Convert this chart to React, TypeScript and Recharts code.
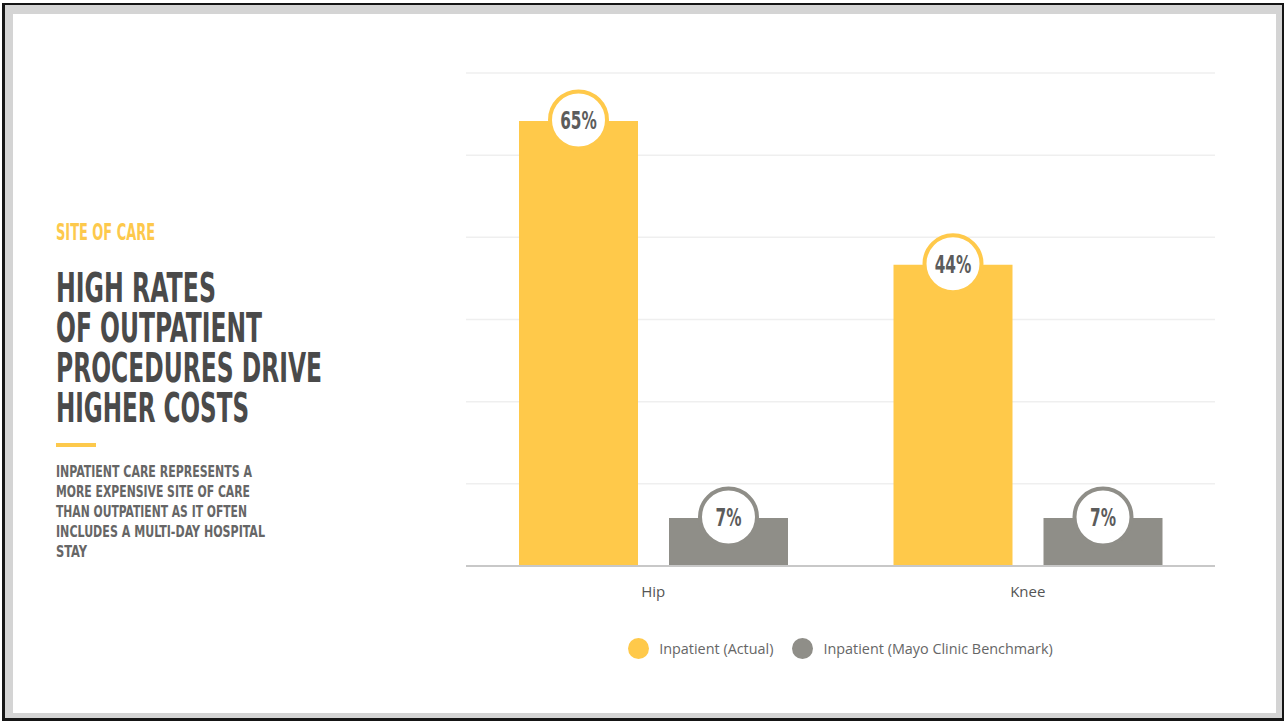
import React from 'react';
import { BarChart, Bar, XAxis, YAxis, CartesianGrid, Legend, LabelList } from 'recharts';

const categories = ['Hip', 'Knee'];
const actualValues = [65, 44];
const benchmarkValues = [7, 7];
const seriesNames = ['Inpatient (Actual)', 'Inpatient (Mayo Clinic Benchmark)'];
const yTicks = [0, 12, 24, 36, 48, 60, 72];
const kicker = 'SITE OF CARE';
const titleLines = ['HIGH RATES', 'OF OUTPATIENT', 'PROCEDURES DRIVE', 'HIGHER COSTS'];
const bodyLines = [
  'INPATIENT CARE REPRESENTS A',
  'MORE EXPENSIVE SITE OF CARE',
  'THAN OUTPATIENT AS IT OFTEN',
  'INCLUDES A MULTI-DAY HOSPITAL',
  'STAY',
];

const YELLOW = '#FFC94A';
const GRAY = '#8F8E88';
const COND = "'DejaVu Sans Condensed', 'DejaVu Sans', sans-serif";
const SANS = "'Open Sans', 'Noto Sans', sans-serif";

const data = categories.map((c, i) => ({ name: c, actual: actualValues[i], benchmark: benchmarkValues[i] }));

const titleWidths = [160, 206, 266, 193];
const bodyWidths = [196, 194, 191, 209, 31];

const makeLabel = (color: string) => (props: any) => {
  const { x, y, width, value } = props;
  const cx = x + width / 2;
  const cy = y - 1;
  return (
    <g>
      <circle cx={cx} cy={cy} r={28.5} fill="#fff" stroke={color} strokeWidth={4} />
      <g transform={`translate(${cx},${cy}) scale(0.68,1)`}>
        <text x={0} y={0} dy={9} textAnchor="middle" fontFamily={COND} fontWeight="bold" fontSize={25} fill="#5c5c5c">
          {`${value}%`}
        </text>
      </g>
    </g>
  );
};

const Tick = (props: any) => {
  const { x, y, payload } = props;
  return (
    <text x={x} y={y} dy={23} textAnchor="middle" fontFamily={SANS} fontSize={15} fill="#555">
      {payload.value}
    </text>
  );
};

const renderLegend = (props: any) => {
  const { payload } = props;
  return (
    <div style={{ display: 'flex', justifyContent: 'center', alignItems: 'center', height: 30, fontFamily: SANS, fontSize: 14.4, color: '#666' }}>
      {(payload || []).map((p: any, i: number) => (
        <div key={i} style={{ display: 'flex', alignItems: 'center', marginRight: i === 0 ? 19 : 0 }}>
          <span style={{ display: 'inline-block', width: 21, height: 21, borderRadius: '50%', background: p.color, marginRight: 10 }} />
          <span>{p.value}</span>
        </div>
      ))}
    </div>
  );
};

export default function App() {
  return (
    <div style={{ position: 'fixed', left: 0, top: 0, width: 1284, height: 721, background: '#fff', overflow: 'hidden' }}>
      <div style={{ position: 'absolute', left: 2, top: 3, width: 1282, height: 718, background: '#151515' }} />
      <div style={{ position: 'absolute', left: 5, top: 5, width: 1277, height: 713, background: '#d4d4d4' }} />
      <div style={{ position: 'absolute', left: 13, top: 14, width: 1263, height: 699, background: '#fff' }} />

      <svg style={{ position: 'absolute', left: 0, top: 0 }} width={1284} height={721}>
        <text x={56} y={240} fontFamily={COND} fontWeight="bold" fontSize={23} fill="#FDC94C" textLength={99} lengthAdjust="spacingAndGlyphs">
          {kicker}
        </text>
        {titleLines.map((t, i) => (
          <text key={t} x={56} y={302 + i * 40} fontFamily={COND} fontWeight="bold" fontSize={41} fill="#4a4a4a" textLength={titleWidths[i]} lengthAdjust="spacingAndGlyphs">
            {t}
          </text>
        ))}
        <rect x={56} y={443} width={40} height={4} fill="#FDC94C" />
        {bodyLines.map((t, i) => (
          <text key={t} x={56} y={477 + i * 20} fontFamily={COND} fontWeight="bold" fontSize={16.5} fill="#666" textLength={bodyWidths[i]} lengthAdjust="spacingAndGlyphs">
            {t}
          </text>
        ))}
      </svg>

      <div style={{ position: 'absolute', left: 0, top: 0 }}>
        <BarChart width={1284} height={721} data={data} barGap={31} margin={{ top: 73, right: 69, left: 466, bottom: 58 }}>
          <CartesianGrid vertical={false} stroke="#efefef" strokeWidth={1.5} />
          <YAxis hide domain={[0, 72]} ticks={yTicks} />
          <XAxis dataKey="name" height={67} axisLine={{ stroke: '#c8c8c8', strokeWidth: 2 }} tickLine={false} tick={<Tick />} />
          <Legend verticalAlign="bottom" height={30} content={renderLegend} />
          <Bar dataKey="actual" name={seriesNames[0]} fill={YELLOW} barSize={119} isAnimationActive={false}>
            <LabelList dataKey="actual" content={makeLabel(YELLOW)} />
          </Bar>
          <Bar dataKey="benchmark" name={seriesNames[1]} fill={GRAY} barSize={119} isAnimationActive={false}>
            <LabelList dataKey="benchmark" content={makeLabel(GRAY)} />
          </Bar>
        </BarChart>
      </div>
    </div>
  );
}
